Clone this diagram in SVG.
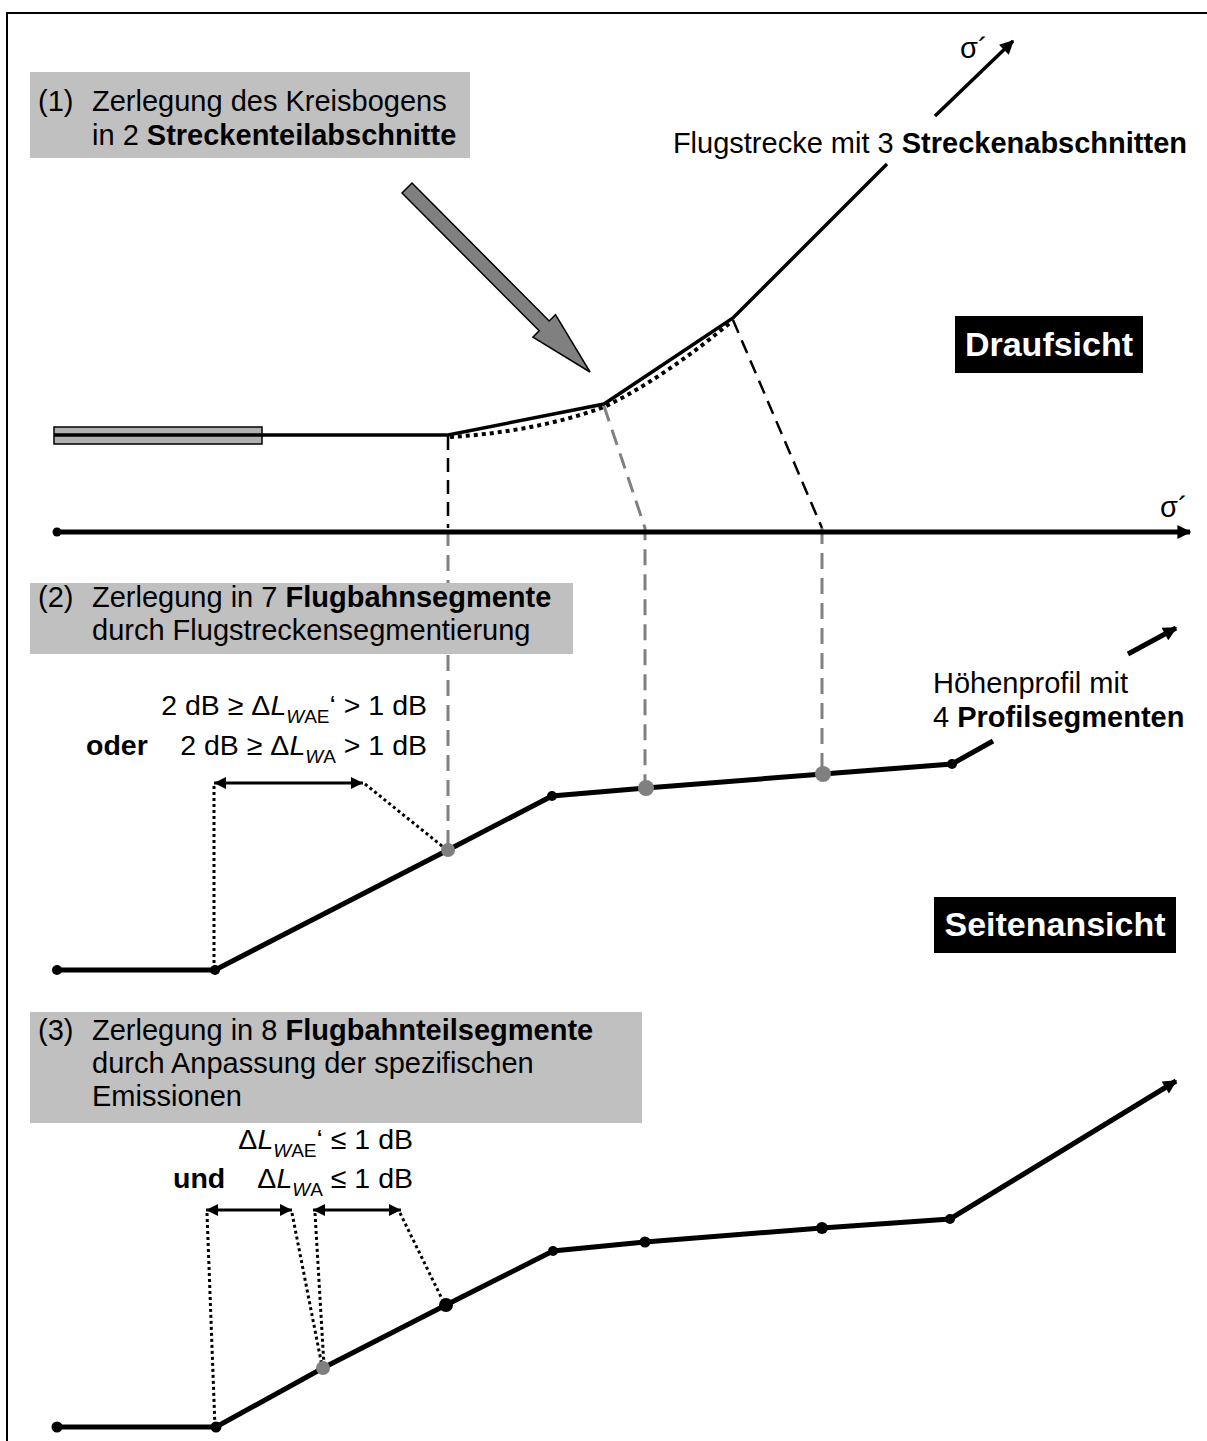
<svg xmlns="http://www.w3.org/2000/svg" width="1207" height="1441" viewBox="0 0 1207 1441">
<defs>
<style>
text{font-family:"Liberation Sans",Arial,sans-serif;font-size:29px;fill:#000}
.b{font-weight:bold}
.f{font-size:28.5px}
.lbl{font-weight:bold;font-size:34px;fill:#fff}
.box{fill:#c0c0c0}
.thin{stroke:#000;stroke-width:3.5;fill:none}
.thick{stroke:#000;stroke-width:5;fill:none}
.dashk{stroke:#000;stroke-width:2.5;stroke-dasharray:14 8;fill:none}
.dashg{stroke:#808080;stroke-width:3;stroke-dasharray:16 9;fill:none}
.dot{stroke:#000;stroke-width:3;stroke-dasharray:3 3;fill:none}
.dotb{stroke:#000;stroke-width:4;stroke-dasharray:4 4;fill:none}
.dimarr{stroke:#000;stroke-width:3;fill:none;marker-start:url(#as);marker-end:url(#ae)}
</style>
<marker id="ah" viewBox="0 0 10 10" refX="9" refY="5" markerWidth="16" markerHeight="14" markerUnits="userSpaceOnUse" orient="auto"><path d="M0,0 L10,5 L0,10 Z" fill="#000"/></marker>
<marker id="ae" viewBox="0 0 10 10" refX="10" refY="5" markerWidth="16" markerHeight="12" markerUnits="userSpaceOnUse" orient="auto"><path d="M0,0 L10,5 L0,10 Z" fill="#000"/></marker>
<marker id="as" viewBox="0 0 10 10" refX="0" refY="5" markerWidth="16" markerHeight="12" markerUnits="userSpaceOnUse" orient="auto"><path d="M10,0 L0,5 L10,10 Z" fill="#000"/></marker>
</defs>
<rect width="1207" height="1441" fill="#fff"/>
<path d="M7,1441 V13 H1207" fill="none" stroke="#000" stroke-width="2"/>

<g id="connectors">
  <!-- top view flight track -->
  <rect x="54" y="427" width="208" height="17" fill="#b0b0b0" stroke="#000" stroke-width="1.5"/>
  <path class="thin" d="M54,435 H448 L604,404 L733,318 L887,164"/>
  <path class="thin" d="M935,116 L1013,41" stroke-width="4" marker-end="url(#ah)"/>
  <path class="dotb" d="M450,437 C500,434 555,425 604,407 C650,385 695,352 731,322"/>
  <!-- big gray arrow -->
  <path d="M402,193 L539.2,330.8 L532.9,337.2 L590,372 L555.5,314.6 L549.2,321 L412,183 Z" fill="#808080" stroke="#000" stroke-width="1.5" stroke-linejoin="miter"/>
  <!-- projections top -->
  <path class="dashk" d="M448,436 V528"/>
  <path class="dashg" d="M604,406 L645,528 V787"/>
  <path class="dashk" d="M733,320 L822,528"/>
  <path class="dashg" d="M822,528 V773"/>
  <path class="dashg" d="M448,530 V850"/>
  <!-- sigma axis -->
  <path class="thick" d="M57,532 H1190" stroke-width="4" marker-end="url(#ah)"/>
  <circle cx="57" cy="532" r="4.5"/>

  <!-- profile 1 -->
  <path class="thick" d="M57,970 H215 L448,850 L552,796 L646,788 L823,774 L952,764 L993,741"/>
  <path class="thick" d="M1128,654 L1176,628" marker-end="url(#ah)"/>
  <path class="dimarr" d="M214,783 H363"/>
  <path class="dot" d="M214,786 V970"/>
  <path class="dot" d="M365,784 L447,850"/>

  <!-- profile 2 -->
  <path class="thick" d="M57,1427 H216 L323,1368 L446,1305 L553,1251 L645,1242 L822,1228 L950,1219 L1176,1081" marker-end="url(#ah)"/>
  <path class="dimarr" d="M206,1210 H292"/>
  <path class="dimarr" d="M313,1210 H401"/>
  <path class="dot" d="M207,1213 L215,1427"/>
  <path class="dot" d="M292,1213 L322,1366"/>
  <path class="dot" d="M315,1213 L324,1366"/>
  <path class="dot" d="M400,1213 L444,1303"/>
</g>

<g id="points">
  <circle cx="215" cy="970" r="5"/>
  <circle cx="57" cy="970" r="5"/>
  <circle cx="448" cy="850" r="7" fill="#808080"/>
  <circle cx="552" cy="796" r="5"/>
  <circle cx="646" cy="788" r="8" fill="#808080"/>
  <circle cx="823" cy="774" r="8" fill="#808080"/>
  <circle cx="952" cy="764" r="5"/>
  <circle cx="57" cy="1427" r="5.5"/>
  <circle cx="216" cy="1427" r="5.5"/>
  <circle cx="323" cy="1368" r="7" fill="#808080"/>
  <circle cx="446" cy="1305" r="7"/>
  <circle cx="553" cy="1251" r="5"/>
  <circle cx="645" cy="1242" r="5.5"/>
  <circle cx="822" cy="1228" r="6"/>
  <circle cx="950" cy="1219" r="5"/>
</g>

<g id="step1">
  <rect class="box" x="30" y="72" width="440" height="86"/>
  <text x="38" y="111">(1)</text>
  <text x="92" y="111">Zerlegung des Kreisbogens</text>
  <text x="92" y="145">in 2 <tspan class="b">Streckenteilabschnitte</tspan></text>
</g>

<g id="track-label">
  <text x="1187" y="153" text-anchor="end">Flugstrecke mit 3 <tspan class="b">Streckenabschnitten</tspan></text>
  <text x="960" y="58" font-family="Liberation Serif,serif" font-size="30">σ´</text>
</g>

<g id="draufsicht">
  <rect x="955" y="316" width="188" height="57" fill="#000"/>
  <text class="lbl" x="1049" y="356" text-anchor="middle">Draufsicht</text>
</g>

<g id="sigma-label">
  <text x="1160" y="517" font-family="Liberation Serif,serif" font-size="30">σ´</text>
</g>

<g id="step2">
  <rect class="box" x="30" y="583" width="543" height="71"/>
  <text x="38" y="607">(2)</text>
  <text x="92" y="607">Zerlegung in 7 <tspan class="b">Flugbahnsegmente</tspan></text>
  <text x="92" y="640">durch Flugstreckensegmentierung</text>
</g>

<g id="profile-label">
  <text x="933" y="693">Höhenprofil mit</text>
  <text x="933" y="727">4 <tspan class="b">Profilsegmenten</tspan></text>
</g>

<g id="criteria2">
  <text class="f" x="427" y="715" text-anchor="end">2 dB ≥ Δ<tspan font-style="italic">L</tspan><tspan font-size="19" dy="8"><tspan font-style="italic">W</tspan>AE</tspan><tspan dy="-8">‘ &gt; 1 dB</tspan></text>
  <text class="f b" x="86" y="755">oder</text>
  <text class="f" x="427" y="755" text-anchor="end">2 dB ≥ Δ<tspan font-style="italic">L</tspan><tspan font-size="19" dy="8"><tspan font-style="italic">W</tspan>A</tspan><tspan dy="-8">  &gt; 1 dB</tspan></text>
</g>

<g id="seitenansicht">
  <rect x="934" y="897" width="242" height="56" fill="#000"/>
  <text class="lbl" x="1055" y="936" text-anchor="middle">Seitenansicht</text>
</g>

<g id="step3">
  <rect class="box" x="30" y="1012" width="612" height="111"/>
  <text x="38" y="1040">(3)</text>
  <text x="92" y="1040">Zerlegung in 8 <tspan class="b">Flugbahnteilsegmente</tspan></text>
  <text x="92" y="1073">durch Anpassung der spezifischen</text>
  <text x="92" y="1106">Emissionen</text>
</g>

<g id="criteria3">
  <text class="f" x="413" y="1149" text-anchor="end">Δ<tspan font-style="italic">L</tspan><tspan font-size="19" dy="8"><tspan font-style="italic">W</tspan>AE</tspan><tspan dy="-8">‘ ≤ 1 dB</tspan></text>
  <text class="f b" x="173" y="1188">und</text>
  <text class="f" x="413" y="1188" text-anchor="end">Δ<tspan font-style="italic">L</tspan><tspan font-size="19" dy="8"><tspan font-style="italic">W</tspan>A</tspan><tspan dy="-8"> ≤ 1 dB</tspan></text>
</g>
</svg>
